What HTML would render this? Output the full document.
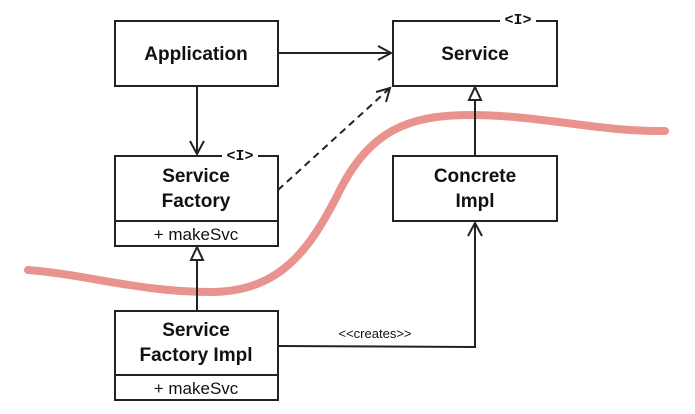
<!DOCTYPE html>
<html><head><style>
body{margin:0;background:#fff;}
svg{display:block;}
.b{font-family:"Liberation Sans",sans-serif;font-weight:bold;font-size:19px;text-anchor:middle;fill:#111;}
.n{font-family:"Liberation Sans",sans-serif;font-size:17px;text-anchor:middle;fill:#111;}
.m{font-family:"Liberation Mono",monospace;font-weight:bold;font-size:15px;text-anchor:middle;fill:#111;}
</style></head><body>
<svg width="695" height="414" viewBox="0 0 695 414">
<path d="M28,270 C90,275 140,292 210,292 C280,292 310,250 340,190 C370,130 410,115 470,115 C540,115 600,132 665,131" fill="none" stroke="#e8938d" stroke-width="8" stroke-linecap="round"/>
<g fill="#fff" stroke="#222" stroke-width="2">
<rect x="115" y="21" width="163" height="65"/>
<rect x="393" y="21" width="164" height="65"/>
<rect x="115" y="156" width="163" height="90"/>
<line x1="115" y1="221" x2="278" y2="221"/>
<rect x="393" y="156" width="164" height="65"/>
<rect x="115" y="311" width="163" height="89"/>
<line x1="115" y1="375" x2="278" y2="375"/>
</g>
<rect x="500" y="12" width="36" height="14" fill="#fff"/>
<rect x="222" y="148" width="36" height="14" fill="#fff"/>
<text class="m" x="518" y="24">&lt;I&gt;</text>
<text class="m" x="240" y="160">&lt;I&gt;</text>
<g fill="none" stroke="#222" stroke-width="2">
<line x1="278" y1="53" x2="391" y2="53"/>
<polyline points="378,46 391,53 378,60"/>
<line x1="197" y1="86" x2="197" y2="154"/>
<polyline points="190,141 197,154 204,141"/>
<line x1="278" y1="190" x2="390" y2="88" stroke-dasharray="7,5"/>
<polyline points="376,92 390,88 386,102"/>
<line x1="475" y1="156" x2="475" y2="100"/>
<polygon points="475,87 469,100 481,100" fill="#fff"/>
<line x1="197" y1="311" x2="197" y2="260"/>
<polygon points="197,247 191,260 203,260" fill="#fff"/>
<polyline points="278,346 475,347 475,223"/>
<polyline points="468,236 475,223 482,236"/>
</g>
<text class="b" x="196" y="60">Application</text>
<text class="b" x="475" y="60">Service</text>
<text class="b" x="196" y="182">Service</text>
<text class="b" x="196" y="207">Factory</text>
<text class="n" x="196" y="240">+ makeSvc</text>
<text class="b" x="475" y="182">Concrete</text>
<text class="b" x="475" y="207">Impl</text>
<text class="b" x="196" y="336">Service</text>
<text class="b" x="196" y="361">Factory Impl</text>
<text class="n" x="196" y="394">+ makeSvc</text>
<text class="n" x="375" y="338" style="font-size:13px">&lt;&lt;creates&gt;&gt;</text>
</svg>
</body></html>
